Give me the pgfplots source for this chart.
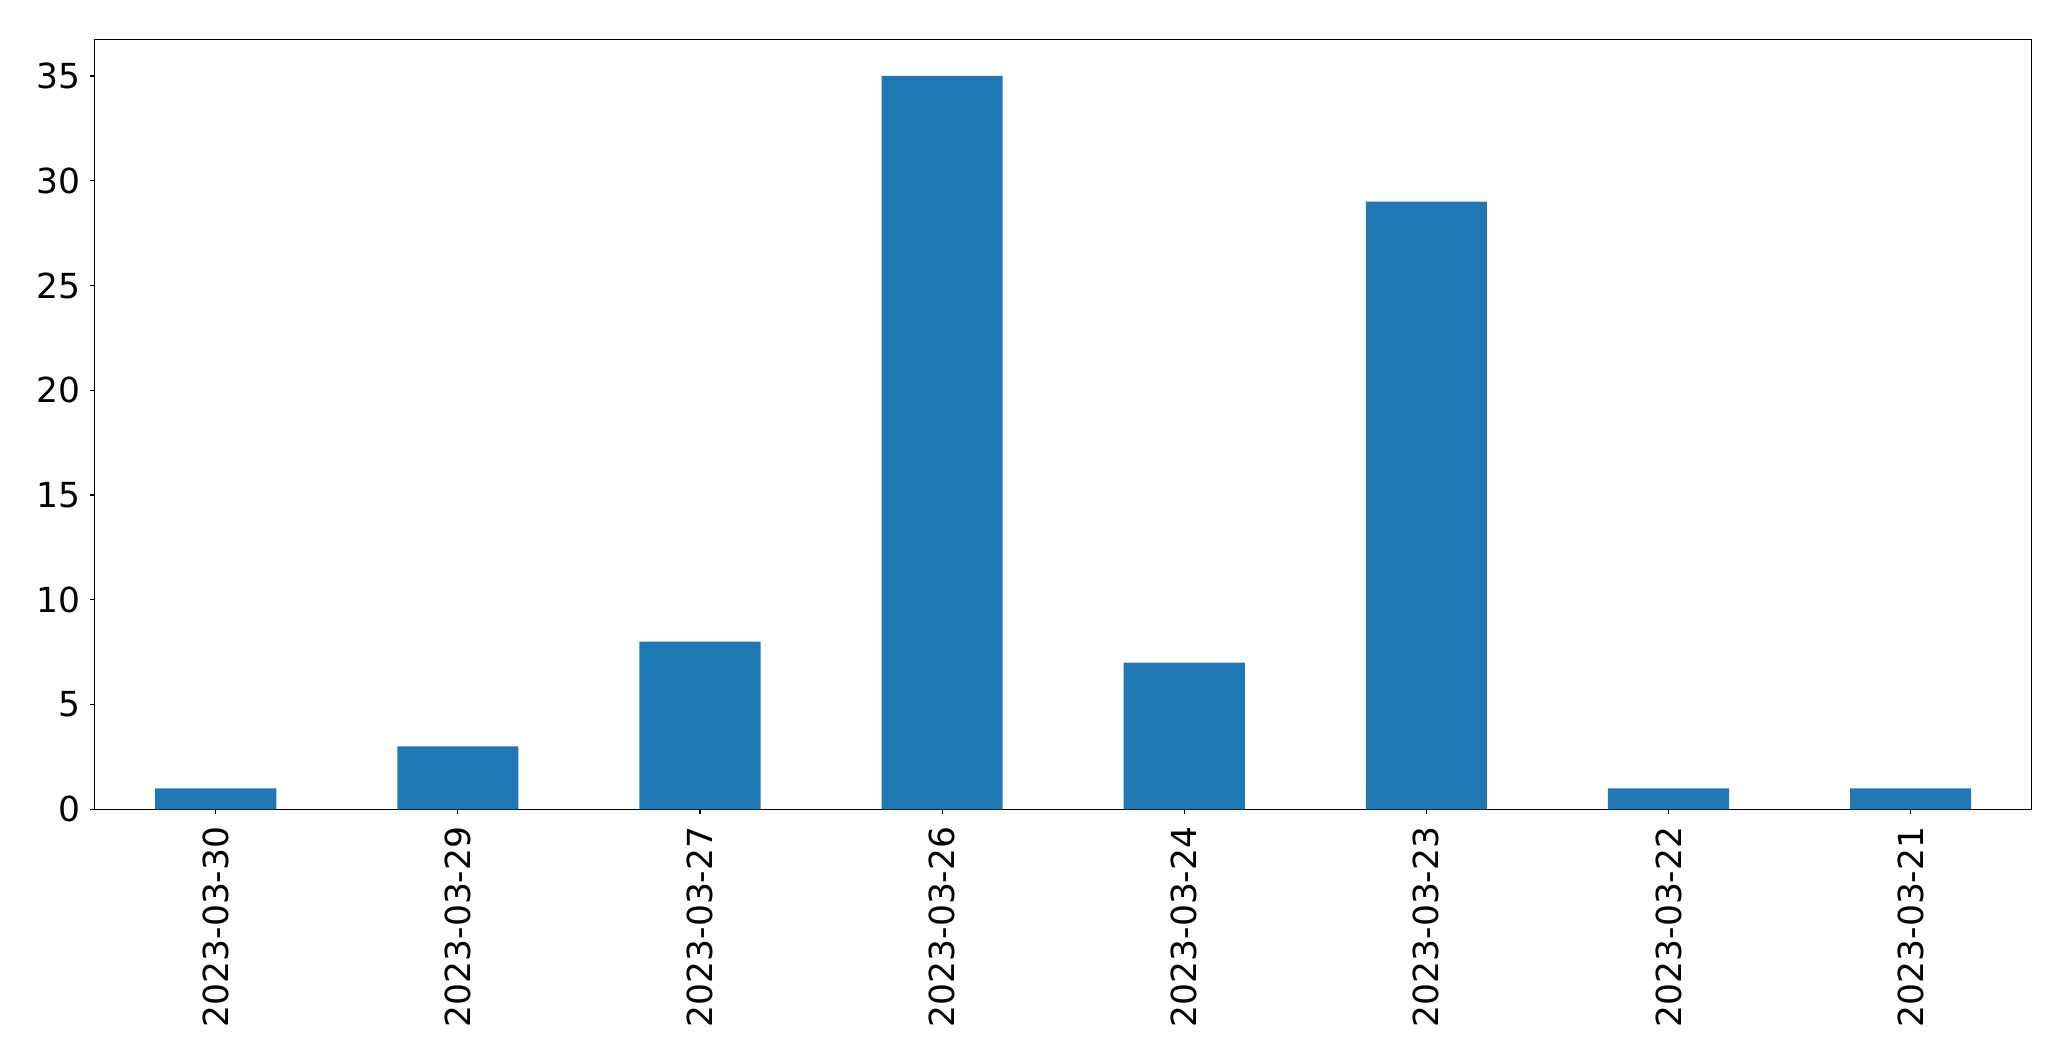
\documentclass[border=0pt]{standalone}
\usepackage{pgfplots}
\pgfplotsset{compat=1.18}
\usepackage{fontspec}
\setmainfont{DejaVu Sans}
\definecolor{mplblue}{HTML}{1F77B4}
\begin{document}
\begin{tikzpicture}
\begin{axis}[
  scale only axis,
  width=968.5pt, height=385pt,
  xmin=-0.5, xmax=7.5, ymin=0, ymax=36.75,
  ybar, bar width=0.5,
  xtick={0,1,2,3,4,5,6,7},
  xticklabels={2023-03-30,2023-03-29,2023-03-27,2023-03-26,2023-03-24,2023-03-23,2023-03-22,2023-03-21},
  ytick={0,5,10,15,20,25,30,35},
  tick align=outside,
  major tick length=2.45pt,
  tick style={black, line width=0.55pt},
  axis line style={line width=0.55pt},
  xtick pos=bottom, ytick pos=left,
  /pgf/number format/assume math mode=true,
  tick label style={font=\fontsize{17.25}{20}\selectfont, inner sep=0pt},
  xticklabel style={rotate=90, anchor=east},
  xticklabel shift=6pt,
  yticklabel shift=4.4pt,
]
\addplot[fill=mplblue, draw=none] coordinates {(0,1) (1,3) (2,8) (3,35) (4,7) (5,29) (6,1) (7,1)};
\coordinate (sw) at (rel axis cs:0,0);
\coordinate (ne) at (rel axis cs:1,1);
\end{axis}
\path (sw) ++(-47.35pt,-125.85pt) coordinate (a);
\path (ne) ++(19.65pt,19.65pt) coordinate (b);
\path (a) rectangle (b);
\end{tikzpicture}
\end{document}
